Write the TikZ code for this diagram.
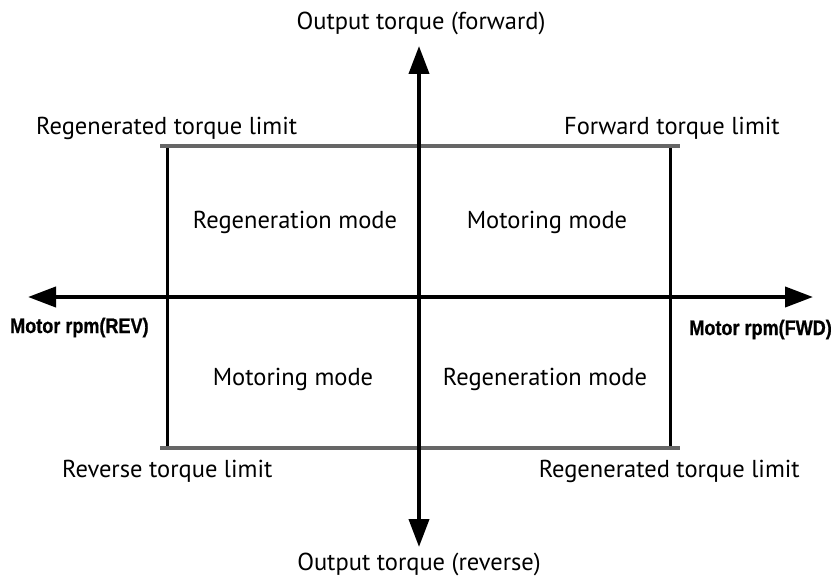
\documentclass[tikz,border=0pt]{standalone}
\usepackage{fontspec}
\setmainfont{PT Sans}
\newfontfamily\arialb[FakeStretch=0.86,BoldFeatures={FakeBold=0.8}]{Liberation Sans}
\usetikzlibrary{arrows.meta}
\begin{document}
\begin{tikzpicture}[x=1pt,y=-1pt,
  axis/.style={line width=4pt,-{Triangle[length=28pt,width=20pt]}},
  limit/.style={line width=4pt,draw={rgb,255:red,102;green,102;blue,102}},
  side/.style={line width=3pt},
  lbl/.style={font=\fontsize{24.5}{28}\selectfont,inner sep=0pt},
  rpm/.style={font=\arialb\bfseries\fontsize{21}{24}\selectfont,inner sep=0pt}]
\useasboundingbox (0,0) rectangle (839,578);
\coordinate (c) at (419,297);
\coordinate (tl) at (160,146);
\coordinate (tr) at (680,146);
\coordinate (bl) at (160,448);
\coordinate (br) at (680,448);
\coordinate (lt) at (167,146);
\coordinate (lb) at (167,448);
\coordinate (rt) at (670,146);
\coordinate (rb) at (670,448);
\coordinate (xl) at (28,297);
\coordinate (xr) at (813,297);
\coordinate (yt) at (419,46);
\coordinate (yb) at (419,547);
\draw[side] (lt) -- (lb);
\draw[side] (rt) -- (rb);
\draw[limit] (tl) -- (tr);
\draw[limit] (bl) -- (br);
\draw[axis] (c) -- (xl);
\draw[axis] (c) -- (xr);
\draw[axis] (c) -- (yt);
\draw[axis] (c) -- (yb);
\node[lbl,anchor=base] (ot) at (421,30) {Output torque (forward)};
\node[lbl,anchor=base] (ob) at (419,570) {Output torque (reverse)};
\node[lbl,anchor=base west] (rtl) at (36,135) {Regenerated torque limit};
\node[lbl,anchor=base east] (ftl) at (780,135) {Forward torque limit};
\node[lbl,anchor=base] (rm1) at (295,228) {Regeneration mode};
\node[lbl,anchor=base] (mm1) at (547,228) {Motoring mode};
\node[lbl,anchor=base] (mm2) at (293,385) {Motoring mode};
\node[lbl,anchor=base] (rm2) at (545,385) {Regeneration mode};
\node[lbl,anchor=base west] (rvl) at (62,477) {Reverse torque limit};
\node[lbl,anchor=base east] (rgl) at (800,477) {Regenerated torque limit};
\node[rpm,anchor=base west] (rev) at (10,333) {Motor rpm(REV)};
\node[rpm,anchor=base east] (fwd) at (832,335) {Motor rpm(FWD)};
\end{tikzpicture}
\end{document}
